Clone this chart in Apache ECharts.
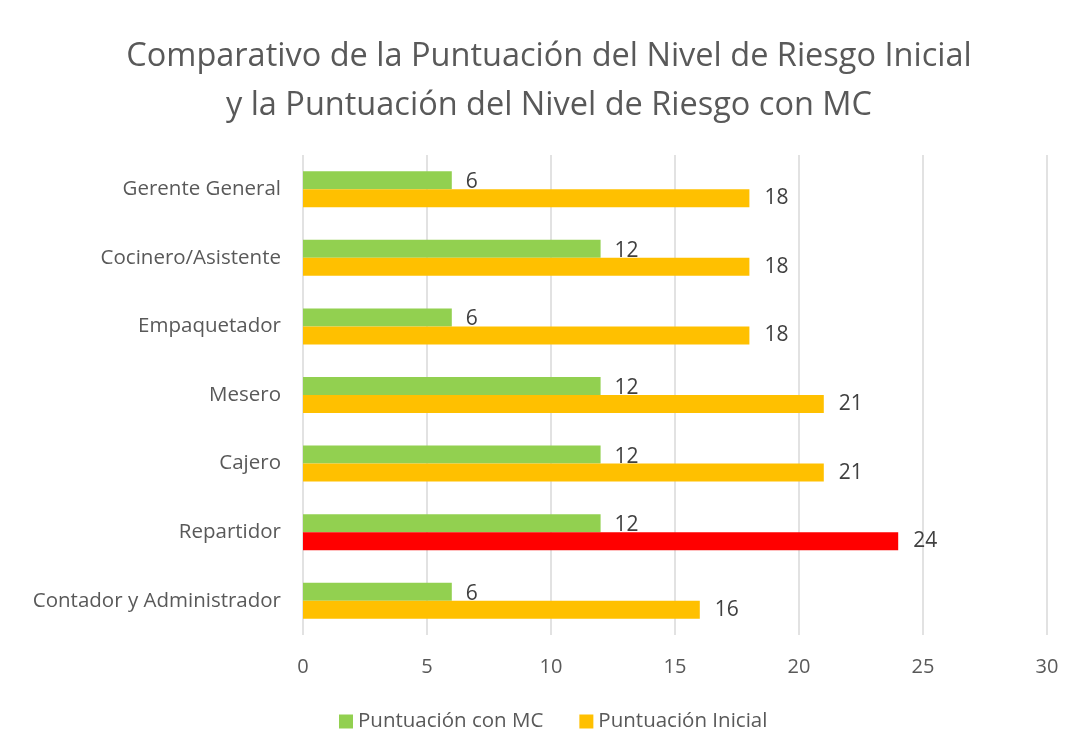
<!DOCTYPE html>
<html>
<head>
<meta charset="utf-8">
<script src="https://cdn.jsdelivr.net/npm/echarts@6/dist/echarts.min.js"></script>
<style>
  html, body { margin: 0; padding: 0; background: #fff; }
  #chart { width: 1078px; height: 751px; }
</style>
</head>
<body>
<div id="chart"></div>
<script>
// categorias (de abajo hacia arriba)
var categorias = ['Contador y Administrador', 'Repartidor', 'Cajero', 'Mesero', 'Empaquetador', 'Cocinero/Asistente', 'Gerente General'];
var puntuacionMC = [6, 12, 12, 12, 6, 12, 6];
var puntuacionInicial = [16, 24, 21, 21, 18, 18, 18];
var ticksX = [0, 5, 10, 15, 20, 25, 30];

var gris = '#595959';

// barra resaltada en rojo (valor maximo)
var datosInicial = puntuacionInicial.map(function (v, i) {
    if (categorias[i] === 'Repartidor') {
        return { value: v, itemStyle: { color: '#FF0000' } };
    }
    return v;
});

var myChart = echarts.init(document.getElementById('chart'));

var option = {
    animation: false,
    textStyle: { fontFamily: 'Open Sans, sans-serif' },
    title: {
        text: 'Comparativo de la Puntuación del Nivel de Riesgo Inicial\ny la Puntuación del Nivel de Riesgo con MC',
        left: 544,
        textAlign: 'center',
        top: 27,
        textStyle: {
            color: gris,
            fontWeight: 'normal',
            fontSize: 32.5,
            lineHeight: 49,
            fontFamily: 'Open Sans, sans-serif'
        }
    },
    legend: {
        data: ['Puntuación con MC', 'Puntuación Inicial'],
        top: 706,
        left: 334,
        itemWidth: 14,
        itemHeight: 14,
        itemGap: 36,
        icon: 'rect',
        textStyle: { color: gris, fontSize: 20.5 }
    },
    grid: {
        left: 303,
        right: 31,
        top: 155,
        bottom: 116,
        containLabel: false
    },
    xAxis: {
        type: 'value',
        min: 0,
        max: 30,
        interval: 5,
        axisLine: { show: false },
        axisTick: { show: false },
        splitLine: { lineStyle: { color: '#D9D9D9', width: 1.5 } },
        axisLabel: { color: gris, fontSize: 20, margin: 22 }
    },
    yAxis: {
        type: 'category',
        data: categorias,
        axisLine: { show: false },
        axisTick: { show: false },
        axisLabel: { color: gris, fontSize: 20.5, margin: 22 }
    },
    series: [
        {
            name: 'Puntuación con MC',
            type: 'bar',
            data: puntuacionMC,
            barWidth: 18,
            barGap: '0%',
            itemStyle: { color: '#92D050' },
            label: { show: true, position: 'right', distance: 14, color: '#404040', fontSize: 21, offset: [0, 2] }
        },
        {
            name: 'Puntuación Inicial',
            type: 'bar',
            data: datosInicial,
            barWidth: 18,
            barGap: '0%',
            itemStyle: { color: '#FFC000' },
            label: { show: true, position: 'right', distance: 15, color: '#404040', fontSize: 21 }
        }
    ]
};

myChart.setOption(option);
</script>
</body>
</html>
